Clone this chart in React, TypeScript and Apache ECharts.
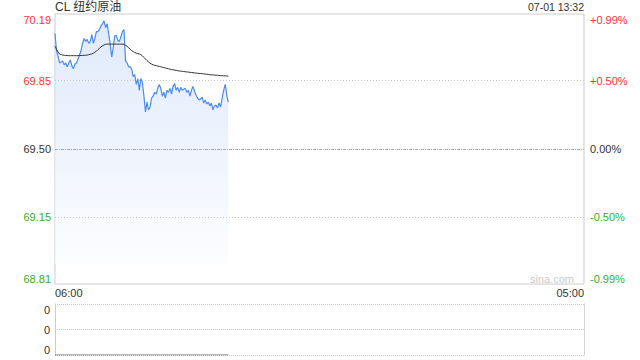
import React, { useEffect, useRef } from "react";
import * as echarts from "echarts";

const title = "CL 纽约原油";
const stamp = "07-01 13:32";
const basePrice = 69.5;
const priceMin = 68.81;
const priceMax = 70.19;
const priceTicks = [68.81, 69.15, 69.5, 69.85, 70.19];
const gridPrices = [69.85, 69.15];

// one point every 4 minutes, 06:00 .. 13:32
const prices = [
  70.09, 70.0, 69.975, 69.94, 69.945, 69.95, 69.93, 69.94, 69.92, 69.94,
  69.955, 69.925, 69.91, 69.935, 69.94, 69.96, 69.98, 70.005, 70.04, 70.065,
  70.05, 70.06, 70.04, 70.05, 70.085, 70.04, 70.065, 70.1, 70.1, 70.11,
  70.13, 70.14, 70.155, 70.12, 70.14, 70.09, 70.035, 69.97, 70.02, 70.08,
  70.08, 70.055, 70.05, 70.075, 70.1, 70.11, 69.95, 69.94, 69.92, 69.92,
  69.91, 69.87, 69.88, 69.83, 69.86, 69.8, 69.86, 69.84, 69.77, 69.69,
  69.74, 69.7, 69.715, 69.76, 69.77, 69.79, 69.78, 69.81, 69.83, 69.81,
  69.77, 69.79, 69.76, 69.8, 69.79, 69.81, 69.78, 69.82, 69.835, 69.8,
  69.815, 69.79, 69.815, 69.8, 69.805, 69.81, 69.79, 69.8, 69.77, 69.8,
  69.82, 69.795, 69.775, 69.76, 69.75, 69.755, 69.765, 69.735, 69.75, 69.73,
  69.74, 69.72, 69.735, 69.7, 69.72, 69.725, 69.71, 69.735, 69.715, 69.76,
  69.8, 69.83, 69.775, 69.74,
];

const avgPrices = [
  70.025, 70.01, 69.995, 69.985, 69.983, 69.98, 69.979, 69.978, 69.978, 69.977,
  69.977, 69.977, 69.977, 69.977, 69.977, 69.977, 69.978, 69.978, 69.978, 69.979,
  69.979, 69.98, 69.982, 69.984, 69.986, 69.99, 69.995, 70.0, 70.008, 70.015,
  70.022, 70.027, 70.032, 70.035, 70.036, 70.036, 70.036, 70.036, 70.036, 70.036,
  70.036, 70.036, 70.036, 70.036, 70.036, 70.035, 70.03, 70.025, 70.018, 70.01,
  70.003, 69.998, 69.993, 69.99, 69.988, 69.986, 69.982, 69.976, 69.968, 69.96,
  69.952, 69.945, 69.938, 69.934, 69.93, 69.928, 69.926, 69.924, 69.922, 69.92,
  69.918, 69.916, 69.914, 69.912, 69.91, 69.908, 69.906, 69.905, 69.903, 69.902,
  69.9, 69.899, 69.898, 69.897, 69.896, 69.895, 69.894, 69.893, 69.892, 69.891,
  69.89, 69.889, 69.888, 69.887, 69.886, 69.886, 69.885, 69.884, 69.883, 69.882,
  69.881, 69.88, 69.879, 69.879, 69.878, 69.877, 69.877, 69.876, 69.875, 69.875,
  69.874, 69.874, 69.873, 69.873,
];

const volumes = [
  0, 0, 0, 0, 0, 0, 0, 0, 0, 0, 0, 0, 0, 0, 0, 0, 0, 0, 0, 0,
  0, 0, 0, 0, 0, 0, 0, 0, 0, 0, 0, 0, 0, 0, 0, 0, 0, 0, 0, 0,
  0, 0, 0, 0, 0, 0, 0, 0, 0, 0, 0, 0, 0, 0, 0, 0, 0, 0, 0, 0,
  0, 0, 0, 0, 0, 0, 0, 0, 0, 0, 0, 0, 0, 0, 0, 0, 0, 0, 0, 0,
  0, 0, 0, 0, 0, 0, 0, 0, 0, 0, 0, 0, 0, 0, 0, 0, 0, 0, 0, 0,
  0, 0, 0, 0, 0, 0, 0, 0, 0, 0, 0, 0, 0, 0,
];

// time axis categories: 06:00 .. 05:00 (next day), 4-minute steps
const times: string[] = [];
for (let m = 0; m <= 1380; m += 4) {
  const t = (6 * 60 + m) % 1440;
  const hh = String(Math.floor(t / 60)).padStart(2, "0");
  const mm = String(t % 60).padStart(2, "0");
  times.push(`${hh}:${mm}`);
}

const RED = "#f33";
const GREEN = "#2fb12f";
const DARK = "#333";
const FONT = '"Liberation Sans", Arial, "Noto Sans CJK SC", sans-serif';

const colorFor = (v: number) =>
  Math.abs(v - basePrice) < 1e-6 ? DARK : v > basePrice ? RED : GREEN;

export default function App() {
  const ref = useRef<HTMLDivElement>(null);
  useEffect(() => {
    if (!ref.current) return;
    const chart = echarts.init(ref.current, null, { renderer: "svg" });
    const lastIdx = times.length - 1;
    chart.setOption({
      animation: false,
      textStyle: { fontFamily: FONT },
      grid: [
        { left: 55, right: 56, top: 14, height: 270, show: true, borderColor: "#ccc", borderWidth: 1, backgroundColor: "transparent" },
        { left: 55, right: 56, top: 304, height: 51 },
      ],
      xAxis: [
        {
          type: "category",
          gridIndex: 0,
          data: times,
          boundaryGap: false,
          axisLine: { show: false },
          axisTick: { show: false },
          splitLine: { show: false },
          axisLabel: {
            interval: (i: number) => i === 0 || i === lastIdx,
            color: DARK,
            fontSize: 11,
            margin: 3,
            alignMinLabel: "left",
            alignMaxLabel: "right",
            fontFamily: FONT,
          },
        },
        {
          type: "category",
          gridIndex: 1,
          data: times,
          boundaryGap: false,
          axisLine: { show: false },
          axisTick: { show: false },
          splitLine: { show: false },
          axisLabel: { show: false },
        },
      ],
      yAxis: [
        {
          type: "value",
          gridIndex: 0,
          position: "left",
          min: priceMin,
          max: priceMax,
          axisLine: { show: false },
          axisTick: { show: false },
          splitLine: { show: false },
          axisLabel: {
            customValues: priceTicks,
            formatter: (v: number) => v.toFixed(2),
            color: (v: any) => colorFor(Number(v)),
            fontSize: 11,
            margin: 4,
            verticalAlignMinLabel: "bottom",
            verticalAlignMaxLabel: "top",
            fontFamily: FONT,
          },
        },
        {
          type: "value",
          gridIndex: 0,
          position: "right",
          min: priceMin,
          max: priceMax,
          axisLine: { show: false },
          axisTick: { show: false },
          splitLine: { show: false },
          axisLabel: {
            customValues: priceTicks,
            formatter: (v: number) => {
              const pct = ((v - basePrice) / basePrice) * 100;
              const s = Math.abs(pct).toFixed(2) + "%";
              if (Math.abs(pct) < 1e-6) return "0.00%";
              return (pct > 0 ? "+" : "-") + s;
            },
            color: (v: any) => colorFor(Number(v)),
            fontSize: 11,
            margin: 6,
            verticalAlignMinLabel: "bottom",
            verticalAlignMaxLabel: "top",
            fontFamily: FONT,
          },
        },
        {
          type: "value",
          gridIndex: 1,
          position: "left",
          min: 0,
          max: 2,
          interval: 1,
          axisLine: { show: true, lineStyle: { color: "#ccc", width: 1 } },
          axisTick: { show: false },
          splitLine: { show: true, lineStyle: { color: "#ccc", type: [1, 1], width: 1 } },
          axisLabel: {
            formatter: () => "0",
            color: DARK,
            fontSize: 11,
            margin: 5,
            verticalAlignMinLabel: "bottom",
            verticalAlignMaxLabel: "top",
            fontFamily: FONT,
          },
        },
        {
          type: "value",
          gridIndex: 1,
          position: "right",
          min: 0,
          max: 2,
          interval: 1,
          axisLine: { show: true, lineStyle: { color: "#ccc", type: [1, 1], width: 1 } },
          axisTick: { show: false },
          splitLine: { show: false },
          axisLabel: { show: false },
        },
      ],
      series: [
        {
          type: "line",
          xAxisIndex: 0,
          yAxisIndex: 0,
          data: prices,
          showSymbol: false,
          symbol: "none",
          lineStyle: { color: "#4a8cf0", width: 1.2 },
          areaStyle: {
            origin: 68.91,
            color: new echarts.graphic.LinearGradient(0, 0, 0, 1, [
              { offset: 0, color: "#d2e1f9" },
              { offset: 1, color: "#fbfcff" },
            ]),
          },
          markLine: {
            silent: true,
            symbol: "none",
            label: { show: false },
            data: [
              ...gridPrices.map((p) => ({ yAxis: p, lineStyle: { color: "#c8c8c8", type: [1, 2], width: 1 } })),
              { yAxis: basePrice, lineStyle: { color: "#aaa", type: [3, 1, 1, 1], width: 1 } },
            ],
          },
          z: 2,
        },
        {
          type: "line",
          xAxisIndex: 0,
          yAxisIndex: 0,
          data: avgPrices,
          showSymbol: false,
          symbol: "none",
          lineStyle: { color: "#333", width: 1 },
          z: 3,
        },
        {
          type: "line",
          xAxisIndex: 1,
          yAxisIndex: 2,
          data: volumes,
          showSymbol: false,
          symbol: "none",
          lineStyle: { color: "#666", width: 1 },
          z: 3,
        },
      ],
      graphic: [
        {
          type: "text",
          left: 55,
          top: 1,
          style: { text: title, fontSize: 12, fill: DARK, fontFamily: FONT },
        },
        {
          type: "text",
          right: 56,
          top: 2,
          style: { text: stamp, fontSize: 10.5, fill: DARK, fontFamily: FONT },
        },
        {
          type: "text",
          right: 66,
          top: 273,
          style: { text: "sina.com", fontSize: 11, fill: "#ccc", fontFamily: FONT },
        },
      ],
    });
    return () => chart.dispose();
  }, []);
  return (
    <div
      ref={ref}
      style={{ position: "fixed", left: 0, top: 0, width: 640, height: 360, background: "#fff" }}
    />
  );
}
